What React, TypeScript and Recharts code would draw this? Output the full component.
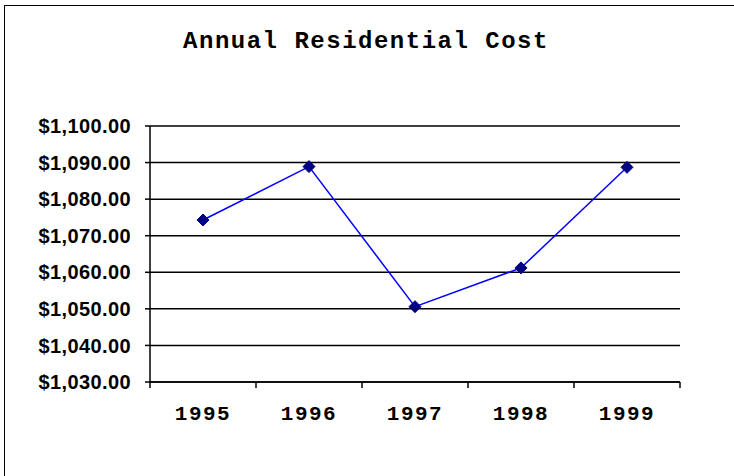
import { CartesianGrid, Line, LineChart, XAxis, YAxis } from "recharts";

const years = ["1995", "1996", "1997", "1998", "1999"];
const costs = [1074.3, 1088.9, 1050.6, 1061.2, 1088.7];
const yTicks = [1030, 1040, 1050, 1060, 1070, 1080, 1090, 1100];

const data = years.map((year, i) => ({ year, cost: costs[i] }));

const formatMoney = (v: number) =>
  "$" + v.toLocaleString("en-US", { minimumFractionDigits: 2, maximumFractionDigits: 2 });

const monoFont = "'Liberation Mono', 'Courier New', monospace";
const sansFont = "'Liberation Sans', Arial, sans-serif";

type TickProps = {
  x?: number;
  y?: number;
  index?: number;
  visibleTicksCount?: number;
  payload?: { value: string; offset?: number };
};

// category ticks sit between the years, labels in the middle of each band
function YearTick({ x = 0, y = 0, index = 0, visibleTicksCount = 0, payload }: TickProps) {
  const half = payload?.offset ?? 0;
  const isLast = index === visibleTicksCount - 1;
  return (
    <g>
      <line x1={x - half} x2={x - half} y1={y} y2={y + 6} stroke="#000" strokeWidth={1.5} />
      {isLast ? (
        <line x1={x + half} x2={x + half} y1={y} y2={y + 6} stroke="#000" strokeWidth={1.5} />
      ) : null}
      <text
        x={x}
        y={y + 38}
        textAnchor="middle"
        fontFamily={monoFont}
        fontWeight="bold"
        fontSize={21}
        letterSpacing={1.5}
        fill="#000"
      >
        {payload?.value}
      </text>
    </g>
  );
}

type DotProps = { cx?: number; cy?: number };

function Diamond({ cx, cy }: DotProps) {
  if (cx == null || cy == null) return null;
  const r = 6;
  return (
    <polygon
      points={`${cx},${cy - r} ${cx + r},${cy} ${cx},${cy + r} ${cx - r},${cy}`}
      fill="#000080"
      stroke="#000080"
    />
  );
}

export default function App() {
  return (
    <div style={{ position: "absolute", left: 0, top: 0, width: 734, height: 476, background: "#fff", overflow: "hidden" }}>
      <div
        style={{
          position: "absolute",
          left: 4,
          top: 5,
          width: 760,
          height: 500,
          border: "1px solid #000",
        }}
      />
      <div
        style={{
          position: "absolute",
          left: 0,
          width: 732,
          top: 30,
          textAlign: "center",
          fontFamily: monoFont,
          fontWeight: "bold",
          fontSize: 24,
          letterSpacing: 1.5,
          lineHeight: "24px",
          color: "#000",
        }}
      >
        Annual Residential Cost
      </div>
      <LineChart
        width={734}
        height={476}
        data={data}
        margin={{ top: 126, right: 54, bottom: 0, left: 0 }}
        style={{ position: "absolute", left: 0, top: 0 }}
      >
        <CartesianGrid vertical={false} stroke="#000" strokeWidth={1.5} />
        <XAxis
          dataKey="year"
          scale="band"
          height={94}
          axisLine={{ stroke: "#000", strokeWidth: 1.5 }}
          tickLine={false}
          tickSize={0}
          tickMargin={0}
          tick={<YearTick />}
          interval={0}
        />
        <YAxis
          width={150}
          domain={[1030, 1100]}
          ticks={yTicks}
          tickFormatter={formatMoney}
          axisLine={{ stroke: "#000", strokeWidth: 1.5 }}
          tickLine={{ stroke: "#000", strokeWidth: 1.5 }}
          tickSize={5}
          tickMargin={14}
          tick={{ fill: "#000", fontFamily: sansFont, fontWeight: "bold", fontSize: 20, letterSpacing: 0.4 }}
        />
        <Line
          type="linear"
          dataKey="cost"
          stroke="#0000ff"
          strokeWidth={1.5}
          dot={<Diamond />}
          activeDot={false}
          isAnimationActive={false}
        />
      </LineChart>
    </div>
  );
}
